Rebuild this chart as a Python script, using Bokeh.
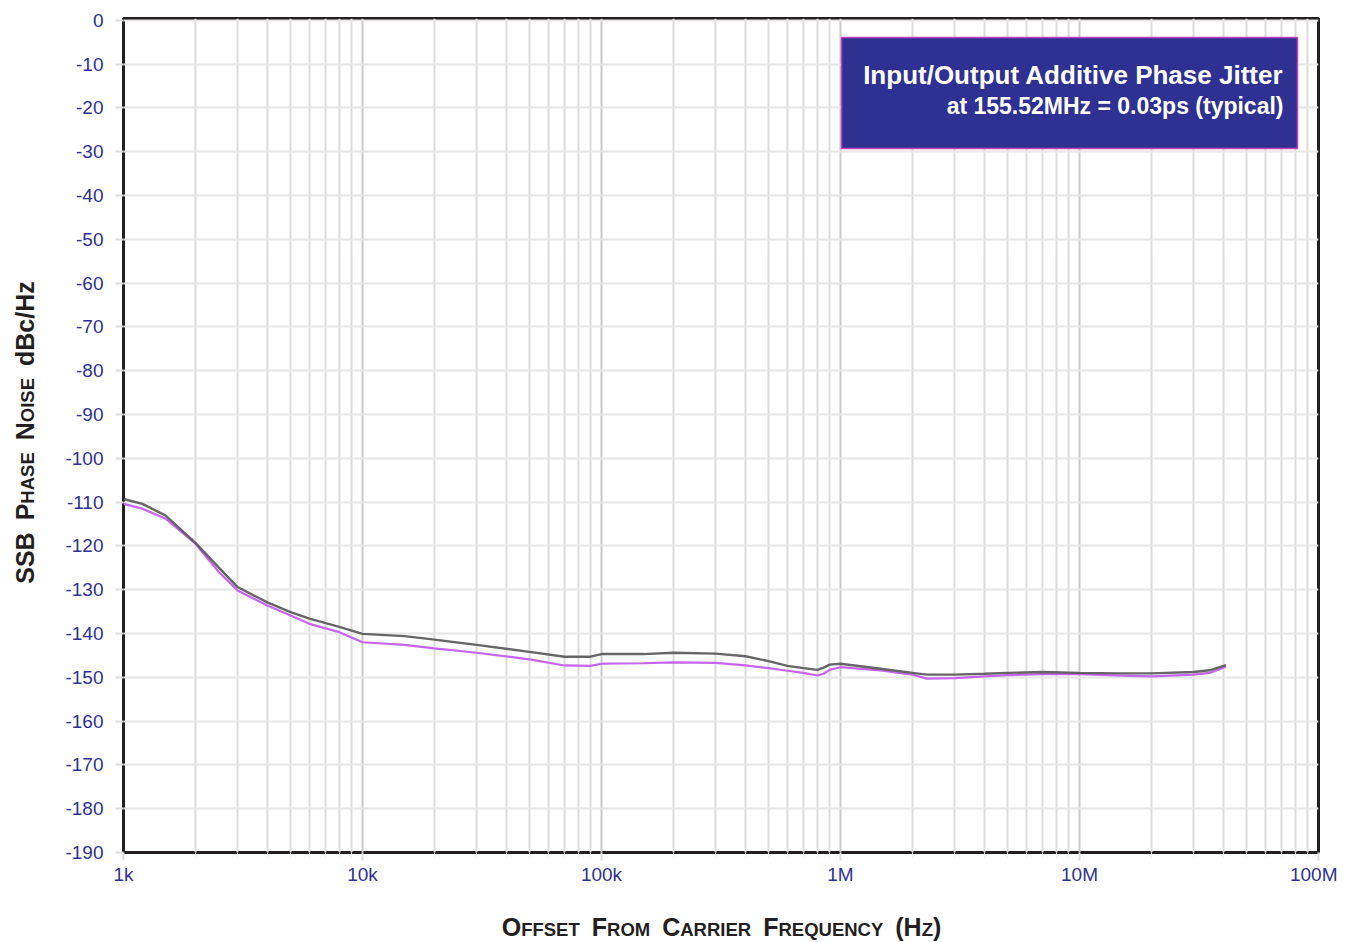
import math
from bokeh.plotting import figure
from bokeh.layouts import row, column
from bokeh.models import Label, BoxAnnotation, FixedTicker, ColumnDataSource
from bokeh.core.properties import value
from bokeh.embed import file_html
from bokeh.resources import INLINE

# ---------------- data ----------------
freq = [1e3, 1.2e3, 1.5e3, 2e3, 2.5e3, 3e3, 4e3, 5e3, 6e3, 8e3,
        1e4, 1.5e4, 2e4, 3e4, 5e4, 7e4, 9e4, 1e5, 1.5e5, 2e5,
        3e5, 4e5, 5e5, 6e5, 7e5, 8e5, 8.5e5, 9e5, 1e6, 1.5e6,
        2e6, 2.3e6, 3e6, 4e6, 5e6, 7e6, 1e7, 1.5e7, 2e7, 3e7,
        3.5e7, 4.1e7]
gray_db = [-109.3, -110.4, -113.1, -119.3, -124.9, -129.4, -132.9, -135.1, -136.6, -138.5,
           -140.1, -140.6, -141.4, -142.6, -144.2, -145.3, -145.3, -144.7, -144.7, -144.4,
           -144.6, -145.2, -146.3, -147.4, -147.9, -148.3, -147.8, -147.1, -146.9, -148.1,
           -149.0, -149.4, -149.4, -149.2, -149.0, -148.8, -149.0, -149.1, -149.1, -148.8,
           -148.4, -147.2]
purple_db = [-110.4, -111.5, -113.8, -119.5, -125.9, -130.2, -133.6, -135.9, -137.8, -139.7,
             -142.0, -142.6, -143.4, -144.4, -145.9, -147.3, -147.4, -146.9, -146.8, -146.6,
             -146.7, -147.3, -147.9, -148.5, -149.0, -149.6, -149.2, -148.3, -147.7, -148.5,
             -149.4, -150.3, -150.2, -149.8, -149.5, -149.3, -149.3, -149.6, -149.8, -149.4,
             -149.0, -147.6]

x_ticks = [1e3, 1e4, 1e5, 1e6, 1e7, 1e8]
x_tick_labels = ["1k", "10k", "100k", "1M", "10M", "100M"]
y_ticks = list(range(-190, 1, 10))

title_line1 = "Input/Output Additive Phase Jitter"
title_line2 = "at 155.52MHz = 0.03ps (typical)"

# ---------------- layout constants (page px) ----------------
YW = 40                      # width of the y-title strip
MAIN_W, MAIN_H = 1297, 895
XT_H = 47
TOTAL_H = MAIN_H + XT_H
FL, FR, FT, FB = 123, 1318, 18, 852
X0, X1 = 1e3, 1e8
Y0, Y1 = -190, 0.4
BLUE = "#2e3192"
FONT = "Liberation Sans"
DARK = "#231f20"
MID = 0.35                   # baseline -> middle offset (fraction of font size)


def fx(px):
    return 10 ** (math.log10(X0) + (px - FL) / (FR - FL) * (math.log10(X1) - math.log10(X0)))


def fy(py):
    return Y0 + (FB - py) / (FB - FT) * (Y1 - Y0)


W = {'A': 722, 'B': 722, 'C': 722, 'D': 722, 'E': 667, 'F': 611, 'G': 778, 'H': 722, 'I': 278,
     'M': 833, 'N': 722, 'O': 778, 'P': 667, 'Q': 778, 'R': 722, 'S': 667, 'T': 611, 'U': 722,
     'Y': 667, 'Z': 611, ' ': 278, '(': 333, ')': 333, 'd': 611, 'c': 556, '/': 278, 'z': 500}


def tw(s, size):
    return sum(W.get(c, 600) for c in s) / 1000.0 * size


# ---------------- main plot ----------------
p = figure(width=MAIN_W, height=MAIN_H, x_axis_type="log", x_range=(X0, X1), y_range=(Y0, Y1),
           output_backend="svg", toolbar_location=None,
           min_border_left=FL - YW, min_border_right=YW + MAIN_W - FR,
           min_border_top=FT, min_border_bottom=MAIN_H - FB)
p.background_fill_color = "white"
p.border_fill_color = "white"
p.outline_line_color = DARK
p.outline_line_width = 3

xt = FixedTicker(ticks=x_ticks, minor_ticks=[m * d for d in [1e3, 1e4, 1e5, 1e6, 1e7] for m in range(2, 10)])
p.xaxis.ticker = xt
p.xgrid.ticker = xt
p.xaxis.major_label_overrides = {int(t): lab for t, lab in zip(x_ticks, x_tick_labels)}
yt = FixedTicker(ticks=y_ticks)
p.yaxis.ticker = yt
p.ygrid.ticker = yt
p.yaxis.major_label_overrides = {t: str(t) for t in y_ticks}

for ax in (p.xaxis[0], p.yaxis[0]):
    ax.axis_line_color = None
    ax.major_label_text_font = FONT
    ax.major_label_text_font_size = "19px"
    ax.major_label_text_color = BLUE
    ax.major_tick_line_color = "#dddddd"
    ax.major_tick_line_width = 2
    ax.major_tick_out = 8
    ax.major_tick_in = 0
    ax.minor_tick_line_color = "#eeeeee"
    ax.minor_tick_out = 5
    ax.minor_tick_in = 0
p.yaxis.minor_tick_line_color = None
p.yaxis.major_label_standoff = 12
p.xaxis.major_label_standoff = 3

p.xgrid.grid_line_color = "#c9c9c9"
p.xgrid.grid_line_width = 2
p.xgrid.minor_grid_line_color = "#dcdcdc"
p.xgrid.minor_grid_line_width = 2
p.ygrid.grid_line_color = "#e6e6e6"
p.ygrid.grid_line_width = 2

p.line(freq, purple_db, line_color="#c566f0", line_width=2.2)
p.line(freq, gray_db, line_color="#555555", line_width=2.4, line_alpha=0.9)

# title box
p.add_layout(BoxAnnotation(left=fx(841), right=fx(1297), top=fy(37), bottom=fy(148),
                           fill_color=BLUE, fill_alpha=1.0, line_color="#c040c0", line_width=1.5,
                           line_alpha=1.0))
p.add_layout(Label(x=fx(1283), y=fy(84 - MID * 26), text=title_line1, text_align="right",
                   text_baseline="middle", text_color="white", text_font=FONT,
                   text_font_style="bold", text_font_size="26px"))
p.add_layout(Label(x=fx(1283), y=fy(114 - MID * 23), text=title_line2, text_align="right",
                   text_baseline="middle", text_color="white", text_font=FONT,
                   text_font_style="bold", text_font_size="23px"))

BIG, SMALL, GAP = 25, 18.5, 12


def strip_fig(w, h, x_range, y_range, bl, br):
    f = figure(width=w, height=h, x_range=x_range, y_range=y_range, output_backend="svg",
               toolbar_location=None, x_axis_location=None, y_axis_location=None)
    f.min_border_left = bl
    f.min_border_right = br
    f.min_border_top = 0
    f.min_border_bottom = 0
    f.outline_line_color = None
    f.grid.visible = False
    f.background_fill_color = "white"
    f.border_fill_color = "white"
    return f


# ---------------- x-axis title strip (small caps emulated) ----------------
# frame of this strip matches the main frame horizontally: data x == page x
xf = strip_fig(MAIN_W, XT_H, (FL, FR), (0, XT_H), FL - YW, YW + MAIN_W - FR)
xsegs = [("O", BIG), ("FFSET", SMALL), (None, GAP), ("F", BIG), ("ROM", SMALL), (None, GAP),
         ("C", BIG), ("ARRIER", SMALL), (None, GAP), ("F", BIG), ("REQUENCY", SMALL), (None, GAP),
         ("(H", BIG), ("Z", SMALL), (")", BIG)]


def seg_len(s, sz):
    return sz if s is None else tw(s, sz)


total = sum(seg_len(s, sz) for s, sz in xsegs)
cx = 721 - total / 2
xs, ys_, ts, fs = [], [], [], []
for s, sz in xsegs:
    if s is not None:
        xs.append(cx)
        ys_.append(TOTAL_H - (935 - MID * sz))
        ts.append(s)
        fs.append(f"{sz}px")
    cx += seg_len(s, sz)
xsrc = ColumnDataSource(dict(x=xs, y=ys_, t=ts, fs=fs))
xf.text(x="x", y="y", text="t", text_font_size="fs", source=xsrc, text_align="left",
        text_baseline="middle", text_color=DARK, text_font=value(FONT),
        text_font_style="bold")

# ---------------- y-axis title strip (rotated, small caps emulated) ----------------
yf = strip_fig(YW, MAIN_H, (0, YW), (0, MAIN_H), 0, 0)
ysegs = [("SSB", BIG), (None, GAP), ("P", BIG), ("HASE", SMALL), (None, GAP), ("N", BIG),
         ("OISE", SMALL), (None, GAP), ("dBc/Hz", BIG)]
total = sum(seg_len(s, sz) for s, sz in ysegs)
cy = 432 + total / 2
xs, ys_, ts, fs = [], [], [], []
for s, sz in ysegs:
    if s is not None:
        xs.append(33 - MID * sz)
        ys_.append(MAIN_H - cy)
        ts.append(s)
        fs.append(f"{sz}px")
    cy -= seg_len(s, sz)
ysrc = ColumnDataSource(dict(x=xs, y=ys_, t=ts, fs=fs))
yf.text(x="x", y="y", text="t", text_font_size="fs", source=ysrc, angle=math.pi / 2,
        text_align="left", text_baseline="middle", text_color=DARK,
        text_font=value(FONT), text_font_style="bold")

layout = row(yf, column(p, xf, spacing=0), spacing=0)

open("out.html", "w").write(file_html(layout, INLINE))
